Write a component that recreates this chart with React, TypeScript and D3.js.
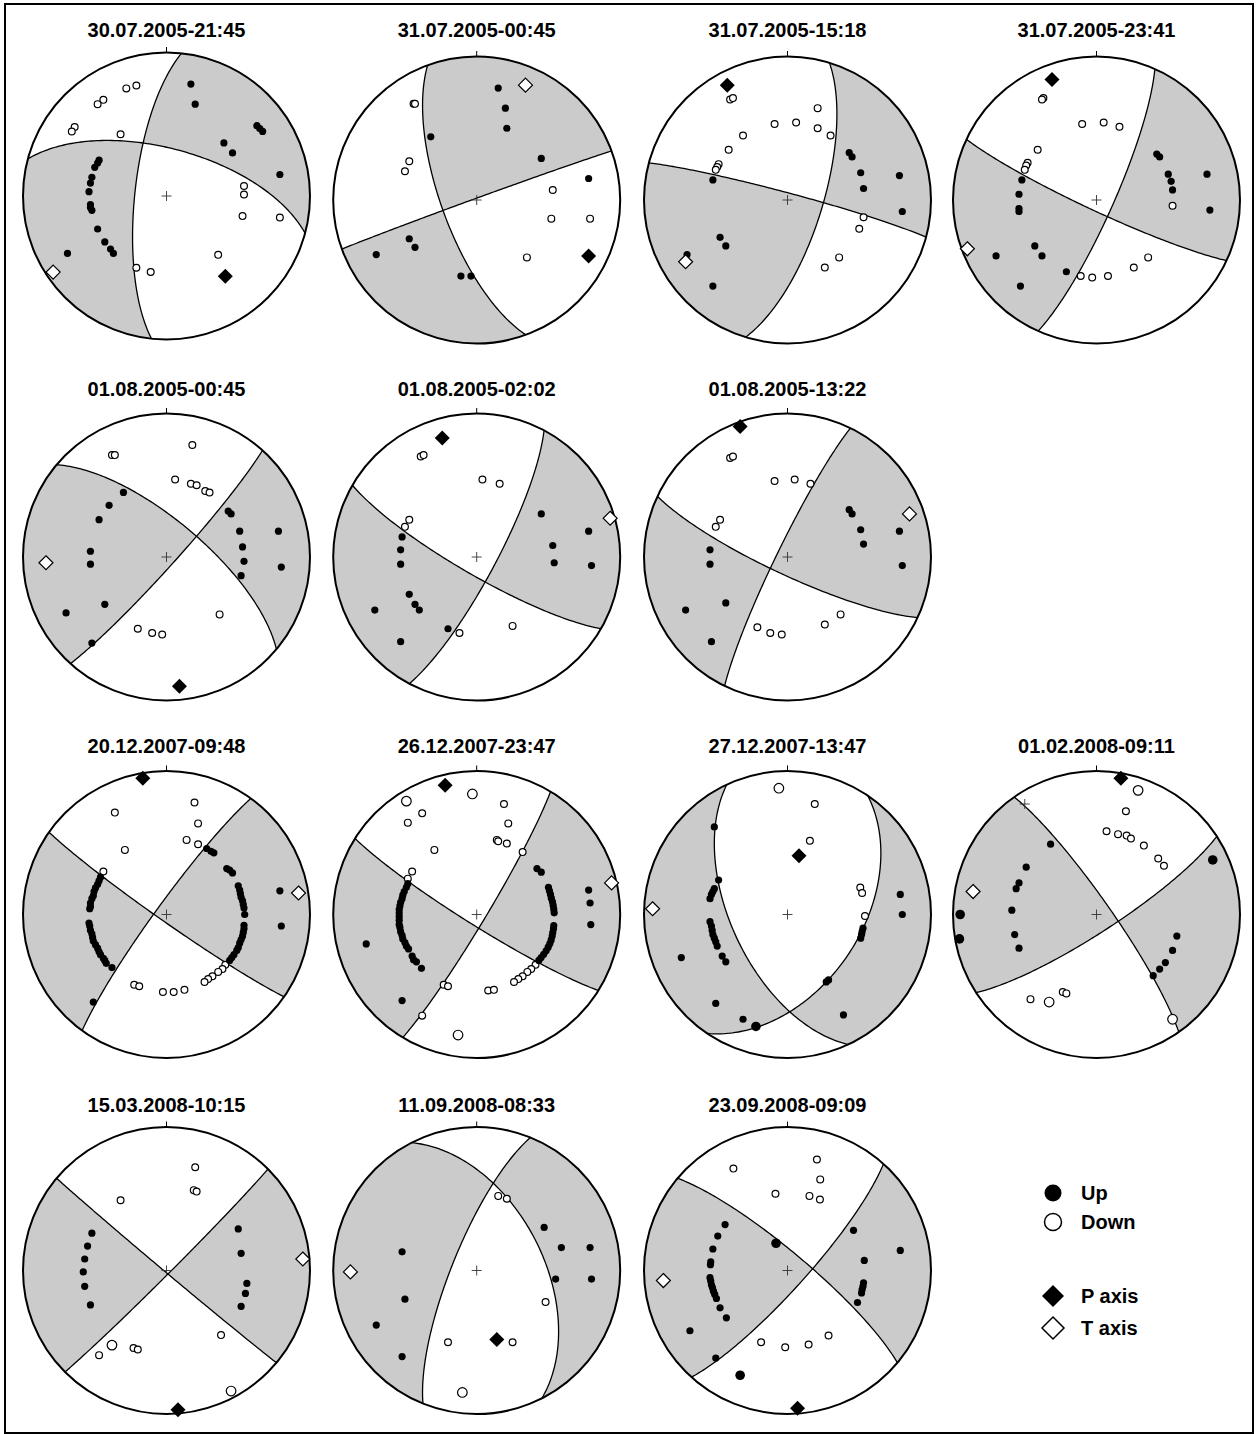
import React from "react";
import * as d3 from "d3";

// Station polarities and P/T axes are given as [east, north] positions on the
// lower-hemisphere equal-area net, in percent of the net radius.
// An optional third value of 1 marks a larger symbol.
type Pt = number[];

const eventTitles = [
  "30.07.2005-21:45",
  "31.07.2005-00:45",
  "31.07.2005-15:18",
  "31.07.2005-23:41",
  "01.08.2005-00:45",
  "01.08.2005-02:02",
  "01.08.2005-13:22",
  "20.12.2007-09:48",
  "26.12.2007-23:47",
  "27.12.2007-13:47",
  "01.02.2008-09:11",
  "15.03.2008-10:15",
  "11.09.2008-08:33",
  "23.09.2008-09:09",
];

// Nodal planes: [strike, dip] in degrees (dip to the right of strike)
const nodalPlaneA: number[][] = [
  [186, 72], [160, 70], [17, 70], [24, 80.5], [42, 85], [28, 79], [206, 84],
  [216, 84], [31, 85], [155, 58], [325, 82], [130, 89], [333, 52], [42, 80],
];
const nodalPlaneB: number[][] = [
  [285, 63], [250, 89], [285, 86], [115, 84], [310, 70], [120, 80], [115, 80],
  [125, 86], [122, 84], [34, 48], [57, 80], [45, 88], [202, 76], [310, 80],
];

const pAxes: Pt[] = [
  [41, -56], [78, -39], [-42, 80], [-31, 84], [9, -90], [-24, 83], [-33, 91],
  [-16.5, 95], [-22, 90], [8, 41], [17, 95], [8, -97], [14, -48], [7, -96],
];
const tAxes: Pt[] = [
  [-79, -53], [34, 80], [-71, -43], [-90, -34], [-84, -4], [93, 27], [85, 30],
  [92, 15], [94, 22], [-94, 4], [-86, 16], [95, 8], [-88, -1], [-86.5, -7],
];

const up1: Pt[] = [
  [17, 78], [20, 64], [63, 49], [65, 47], [67, 45], [40, 37], [46, 30], [79, 15],
  [-47, 25], [-48, 23], [-50, 20], [-52, 13], [-53, 9], [-54, 3], [-53, -6],
  [-53, -8], [-52, -10], [-48, -23], [-43, -32], [-39, -37], [-37, -40], [-69, -40],
];
const down1: Pt[] = [
  [-21, 77], [-28, 75], [-44, 67], [-48, 64], [-64, 48], [-66, 45], [-32, 43],
  [54, 7], [54, 1], [53, -14], [79, -15], [36, -41], [-21, -50], [-11, -53],
];

const up2: Pt[] = [
  [15, 78], [20, 64], [21, 50], [-32, 44], [45, 29], [78, 15], [-47, -27],
  [-43, -33], [-70, -38], [-11, -53], [-4, -53],
];
const down2: Pt[] = [
  [-44, 67], [-43, 67], [-47, 27], [-50, 20], [53, 7], [52, -13], [79, -13], [35, -40],
];

const up3: Pt[] = [
  [43, 33], [45, 30], [51, 19], [53, 8], [78, 17], [80, -8], [-52, 14], [-47, -26],
  [-43, -32], [-70, -38], [-52, -60],
];
const down3: Pt[] = [
  [-40, 70], [-38, 71], [21, 64], [-9, 53], [6, 54], [21, 50], [30, 45], [-31, 45],
  [-41, 35], [-48, 25], [-49, 23], [-50, 21], [53, -12], [50, -20], [36, -40], [26, -47],
];

const up4: Pt[] = [
  [42, 32], [44, 30], [50, 18], [52, 13], [53, 7], [77, 18], [79, -7], [-52, 14],
  [-54, 4], [-54, -6], [-54, -8], [-43, -32], [-38, -39], [-70, -39], [-21, -50], [-53, -60],
];
const down4: Pt[] = [
  [-37, 71], [-38, 70], [-10, 53], [5, 54], [16, 51], [-41, 35], [-48, 26], [-49, 24],
  [-50, 21], [53, -4], [36, -40], [26, -47], [-11, -53], [-3, -54], [8, -53],
];

const up5: Pt[] = [
  [-30, 45], [-40, 36], [-47, 26], [-53, 4], [-53, -5], [-43, -33], [-70, -39], [-52, -60],
  [43, 32], [45, 30], [51, 18], [53, 7], [54, -3], [52, -13], [78, 18], [80, -7],
];
const down5: Pt[] = [
  [18, 78], [-38, 71], [-36, 71], [6, 54], [17, 51], [21, 50], [27, 46], [30, 45],
  [37, -40], [-20, -50], [-10, -53], [-3, -54],
];

const up6: Pt[] = [
  [45, 30], [78, 18], [53, 8], [54, -4], [80, -6], [-52, 14], [-53, 5], [-53, -5],
  [-47, -26], [-43, -33], [-40, -37], [-71, -37], [-20, -50], [-53, -59],
];
const down6: Pt[] = [
  [-39, 70], [-37, 71], [4, 54], [16, 51], [-47, 26], [-50, 21], [-12, -53], [25, -48],
];

const up7: Pt[] = [
  [43, 33], [45, 30], [51, 19], [53, 9], [78, 18], [80, -6], [-54, 5], [-54, -5],
  [-43, -32], [-71, -37], [-53, -59],
];
const down7: Pt[] = [
  [-40, 69], [-38, 70], [-9, 53], [5, 54], [16, 51], [-47, 26], [-50, 21], [37, -40],
  [26, -47], [-21, -49], [-12, -53], [-4, -54],
];

const up8: Pt[] = [
  [-46, 26], [-47, 23.5], [-48, 21], [-49.5, 18.5], [-50.5, 16], [-51, 13], [-52, 11],
  [-53, 8], [-53, 5.5], [-53.5, 4], [-54, -6], [-53.5, -8], [-53, -11], [-52, -13.5],
  [-51.5, -16], [-51, -18.5], [-49.5, -21], [-48, -23.5], [-47, -26], [-46, -28],
  [-44, -30.5], [-43, -32], [-42, -34], [-38, -37],
  [28, 46], [31, 44], [33, 43], [42, 32], [44, 31], [46, 29], [50, 20], [51, 17],
  [51.5, 14.5], [52, 12], [53, 9.5], [53.5, 7], [54, 4.5], [54.5, 0], [54, -7.5],
  [54, -10], [53.5, -12.5], [53, -15], [52, -17.5], [51, -20], [50, -23], [49, -25],
  [47, -28], [45.5, -30], [44, -32],
  [-51, -61], [79, 16.5], [80, -8],
];
const down8: Pt[] = [
  [41, -35], [39, -38], [36, -40], [32, -43], [29, -45], [26.5, -47],
  [19.5, 78], [-36, 71], [22, 63.5], [-29, 45], [14, 52], [22, 49], [-44, 30],
  [-22.5, -49], [-19, -50], [-2.5, -54], [5, -54], [12.5, -52.5],
];

const up9: Pt[] = [
  [-48, 21.5], [-49, 19], [-50.5, 16], [-51.5, 13.5], [-52, 11], [-53, 8.5], [-53.5, 6],
  [-54, 3.5], [-54, 1], [-54, -1.5], [-54, -4], [-54, -7], [-53.5, -9], [-53, -12],
  [-52, -14.5], [-51.5, -17], [-50, -19.5], [-49, -22], [-47.5, -24], [-45, -29],
  [-44, -31.5], [-42, -33], [-38.5, -37.5],
  [42, 32], [45, 29.5], [50, 19], [50.7, 16.5], [51.4, 14], [52, 11.4], [52.8, 8.8],
  [53.3, 6.3], [53.7, 3.7], [54, 1.2], [53.7, -7.7], [53.5, -10], [53, -12.6], [52.6, -15],
  [51.9, -17.7], [51, -20.2], [49.8, -22.8], [48.4, -25.3], [46.7, -27.7], [44.9, -30],
  [43.3, -32],
  [-77, -20.5], [-52, -60], [78, 17], [79, 8], [79.5, -7],
];
const down9: Pt[] = [
  [41, -35], [38, -38], [35.3, -40], [32, -43], [29, -45], [26, -47],
  [-49, 79, 1], [-3, 84, 1], [19, 77], [-38, 70.5], [-48, 64], [22, 63.5], [14, 52],
  [15, 51], [21, 49.5], [-29.5, 45], [32, 43.5], [-45, 30], [-48, 25], [-23, -49],
  [-20, -50], [8, -53], [12, -52.5], [-38, -70.5], [-13, -84, 1],
];

const up10: Pt[] = [
  [-51, 61], [-48, 24], [-51, 18], [-52, 16], [-53, 14], [-54, 11], [-54, -5], [-53, -8],
  [-52.5, -11], [-52, -14], [-51, -16.5], [-50, -19], [-49, -22], [-45.5, -29], [-43, -33],
  [-74, -30], [-50, -62], [-31, -73], [-22, -78, 1], [39, -70], [27, -47], [28.6, -45.6],
  [52.6, -9.5], [52, -12], [51.6, -14], [51, -16.5], [78.6, 14], [80, 0],
];
const down10: Pt[] = [
  [-6, 88, 1], [19, 77], [15.6, 51.4], [50.7, 18.8], [52, 15], [54, -1],
];

const up11: Pt[] = [
  [-32, 49], [-49, 33], [-54, 22], [-56, 18], [-59, 3], [-57, -14], [-54, -23.5],
  [81, 38, 1], [56, -15], [53, -25], [48, -33.5], [44, -38], [39.5, -42.6],
  [-95, 0, 1], [-95.5, -17, 1],
];
const down11: Pt[] = [
  [29, 86.5, 1], [20.5, 72], [7, 58], [15, 56], [21, 55], [24, 53], [33, 48], [43, 39],
  [47, 34], [-46, -59], [-33, -61, 1], [-23.5, -54], [-21, -55], [53, -73, 1],
];
const crosses11: Pt[] = [[-50, 77]];

const up12: Pt[] = [
  [-52, 26], [-55, 17], [-57, 8], [-58, -1], [-57, -11], [-53, -24],
  [50, 29], [52, 12], [56, -9], [55, -16], [52, -25],
];
const down12: Pt[] = [
  [20, 72], [19, 56], [21, 55], [-32, 49], [-38, -52, 1], [-47, -59], [-23, -54],
  [-20, -55], [38, -45], [45, -84, 1],
];

const up13: Pt[] = [
  [-52, 13], [-50, -20], [-70, -38], [-52, -60], [47, 30], [79, 16], [59, 16],
  [55, -6], [80, -6],
];
const down13: Pt[] = [
  [15, 52], [21, 50], [48, -22], [-20, -50], [25, -50], [-10, -85, 1],
];

const up14: Pt[] = [
  [-43.5, 32], [-48.6, 24], [-52, 15], [-53.5, 6], [-53.7, 4], [-54, -5], [-53.5, -7.4],
  [-53, -10], [-52.3, -12], [-51.6, -14.4], [-50.7, -16.7], [-49.5, -19.5], [-47, -26],
  [-42.6, -33], [-68, -42], [-50, -61], [-33, -73, 1], [-8, 19, 1], [46, 28], [78.6, 14],
  [53.5, 7], [53, -8.6], [52.6, -11], [52, -13.3], [51.6, -15.6], [48.8, -22.3],
];
const down14: Pt[] = [
  [20.5, 77.4], [-37.7, 71], [22.8, 63.5], [-8.4, 53.5], [15.3, 52], [22.6, 49.5],
  [-18.4, -50], [-1.6, -53.5], [14.7, -51.6], [28.6, -45.3],
];

const upSets = [up1, up2, up3, up4, up5, up6, up7, up8, up9, up10, up11, up12, up13, up14];
const downSets = [down1, down2, down3, down4, down5, down6, down7, down8, down9, down10, down11, down12, down13, down14];
const extraCrosses: Pt[][] = [[], [], [], [], [], [], [], [], [], [], crosses11, [], [], []];

const legendItems = ["Up", "Down", "P axis", "T axis"];

// ---------- geometry ----------
const DEG = Math.PI / 180;
const NET_R = 143.5;
const colX = [166.5, 476.7, 787.5, 1096.5];
const rowY = [200, 557, 914.5, 1270.5];
const titleBaseline = [37, 396, 753, 1112];
const gridSlots: [number, number][] = [
  [0, 0], [0, 1], [0, 2], [0, 3],
  [1, 0], [1, 1], [1, 2],
  [2, 0], [2, 1], [2, 2], [2, 3],
  [3, 0], [3, 1], [3, 2],
];

type XY = [number, number];

// Lower-hemisphere equal-area projection of a unit vector (east, north, down)
function project(v: number[]): XY {
  let [e, n, z] = v;
  if (z < 0) {
    e = -e; n = -n; z = -z;
  }
  const len = Math.hypot(e, n, z);
  e /= len; n /= len; z /= len;
  const plunge = Math.asin(Math.min(1, z));
  const trend = Math.atan2(e, n);
  const r = Math.SQRT2 * Math.sin((Math.PI / 2 - plunge) / 2);
  return [r * Math.sin(trend), r * Math.cos(trend)];
}

function planeTrace(strike: number, dip: number, steps = 120): XY[] {
  const phi = strike * DEG;
  const del = dip * DEG;
  const s = [Math.sin(phi), Math.cos(phi), 0];
  const d = [Math.cos(del) * Math.cos(phi), -Math.cos(del) * Math.sin(phi), Math.sin(del)];
  const pts: XY[] = [];
  for (let i = 0; i <= steps; i++) {
    const t = (Math.PI * i) / steps;
    pts.push(project([0, 1, 2].map((k) => Math.cos(t) * s[k] + Math.sin(t) * d[k])));
  }
  return pts;
}

// Region between a nodal trace and the primitive circle on the dip side
function dipHalf(strike: number, dip: number): XY[] {
  const pts = planeTrace(strike, dip);
  const steps = 120;
  for (let j = 1; j < steps; j++) {
    const a = (strike + 180 - (180 * j) / steps) * DEG;
    pts.push([Math.sin(a), Math.cos(a)]);
  }
  return pts;
}

const rimPoly: XY[] = d3.range(0, 360, 2).map((a) => [Math.sin(a * DEG), Math.cos(a * DEG)] as XY);

const diamond = (h: number) => `M0,${-h}L${h},0L0,${h}L${-h},0Z`;

function Beachball({ idx }: { idx: number }) {
  const [row, col] = gridSlots[idx];
  const cx = colX[col];
  const cy = rowY[row] + (idx === 0 ? -4 : 0);
  const R = NET_R;
  const x = d3.scaleLinear().domain([-1, 1]).range([cx - R, cx + R]);
  const y = d3.scaleLinear().domain([-1, 1]).range([cy + R, cy - R]);
  const px = d3.scaleLinear().domain([-100, 100]).range([cx - R, cx + R]);
  const py = d3.scaleLinear().domain([-100, 100]).range([cy + R, cy - R]);
  const line = d3.line<XY>().x((d) => x(d[0])).y((d) => y(d[1]));

  const [s1, d1] = nodalPlaneA[idx];
  const [s2, d2] = nodalPlaneB[idx];
  const h1 = dipHalf(s1, d1);
  const h2 = dipHalf(s2, d2);
  const ups = upSets[idx];
  const downs = downSets[idx];

  // compressional quadrants are the ones holding most of the "up" first motions
  const inXor = (q: Pt) => {
    const p: XY = [q[0] / 100, q[1] / 100];
    return d3.polygonContains(h1, p) !== d3.polygonContains(h2, p);
  };
  let score = 0;
  ups.forEach((q) => (score += inXor(q) ? 1 : -1));
  downs.forEach((q) => (score += inXor(q) ? -1 : 1));
  const shade =
    (score >= 0 ? "" : line(rimPoly) + "Z") + line(h1) + "Z" + line(h2) + "Z";

  const p = pAxes[idx];
  const t = tAxes[idx];

  return (
    <g>
      <text
        x={cx}
        y={titleBaseline[row]}
        textAnchor="middle"
        fontFamily="'Liberation Sans', Arial, sans-serif"
        fontWeight="bold"
        fontSize={20}
      >
        {eventTitles[idx]}
      </text>
      <circle cx={cx} cy={cy} r={R} fill="#fff" />
      <path d={shade} fill="#cbcbcb" fillRule="evenodd" />
      <path d={line(planeTrace(s1, d1)) ?? ""} fill="none" stroke="#000" strokeWidth={1.3} />
      <path d={line(planeTrace(s2, d2)) ?? ""} fill="none" stroke="#000" strokeWidth={1.3} />
      <circle cx={cx} cy={cy} r={R} fill="none" stroke="#000" strokeWidth={2} />
      <line x1={cx} x2={cx} y1={cy - R - 5.5} y2={cy - R} stroke="#000" strokeWidth={1} />
      {[[0, 0] as Pt, ...extraCrosses[idx]].map((c, i) => (
        <g key={"c" + i} stroke="#333" strokeWidth={0.9}>
          <line x1={px(c[0]) - 5} x2={px(c[0]) + 5} y1={py(c[1])} y2={py(c[1])} />
          <line x1={px(c[0])} x2={px(c[0])} y1={py(c[1]) - 5} y2={py(c[1]) + 5} />
        </g>
      ))}
      {downs.map((q, i) => (
        <circle
          key={"d" + i}
          cx={px(q[0])}
          cy={py(q[1])}
          r={q[2] ? 4.8 : 3.4}
          fill="#fff"
          stroke="#000"
          strokeWidth={1.2}
        />
      ))}
      {ups.map((q, i) => (
        <circle key={"u" + i} cx={px(q[0])} cy={py(q[1])} r={q[2] ? 4.8 : 3.6} fill="#000" />
      ))}
      <path d={diamond(7)} transform={`translate(${px(t[0])},${py(t[1])})`} fill="#fff" stroke="#000" strokeWidth={1.2} />
      <path d={diamond(7.5)} transform={`translate(${px(p[0])},${py(p[1])})`} fill="#000" />
    </g>
  );
}

function Legend() {
  const lx = 1053;
  const ys = [1193, 1222, 1296, 1328];
  const font = "'Liberation Sans', Arial, sans-serif";
  return (
    <g>
      <circle cx={lx} cy={ys[0]} r={8.5} fill="#000" />
      <circle cx={lx} cy={ys[1]} r={8.5} fill="#fff" stroke="#000" strokeWidth={1.5} />
      <path d={diamond(11)} transform={`translate(${lx},${ys[2]})`} fill="#000" />
      <path d={diamond(11)} transform={`translate(${lx},${ys[3]})`} fill="#fff" stroke="#000" strokeWidth={1.5} />
      {legendItems.map((label, i) => (
        <text key={label} x={1081} y={ys[i] + 7} fontFamily={font} fontWeight="bold" fontSize={20}>
          {label}
        </text>
      ))}
    </g>
  );
}

export default function App() {
  return (
    <svg
      width={1257}
      height={1434}
      style={{ position: "absolute", left: 0, top: 0, background: "#fff" }}
    >
      <rect x={5} y={4} width={1248} height={1429} fill="none" stroke="#000" strokeWidth={2} />
      {eventTitles.map((_, i) => (
        <Beachball key={i} idx={i} />
      ))}
      <Legend />
    </svg>
  );
}
